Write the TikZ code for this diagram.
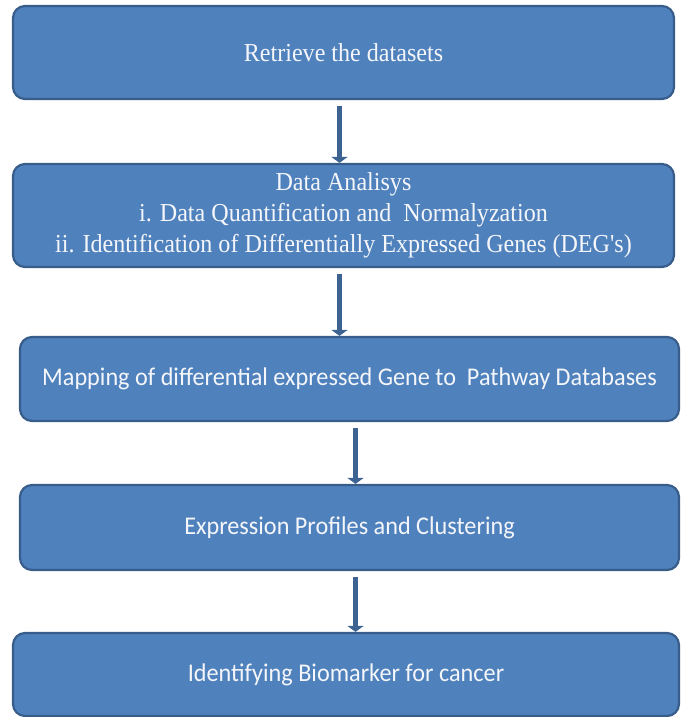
\documentclass[tikz,border=0pt]{standalone}
\usepackage{fontspec}
\usepackage{tikz}
\usetikzlibrary{arrows.meta,positioning}
\newfontfamily\serifbox[FakeStretch=0.93]{Liberation Serif}
\newfontfamily\sansbox[FakeStretch=0.95]{Carlito}
\definecolor{StepBlue}{HTML}{4F81BD}
\definecolor{StepEdge}{HTML}{385D8A}
\definecolor{ArrowBlue}{HTML}{3C6391}
\definecolor{StepText}{HTML}{F4F6FA}

\begin{document}
\begin{tikzpicture}[x=1bp, y=-1bp,
  stepbox/.style={rectangle, rounded corners=12bp, fill=StepBlue, draw=StepEdge,
    line width=2.2bp, text=StepText, align=center, inner sep=0pt},
  flow/.style={line width=5.5bp, ArrowBlue, -{Triangle[width=16bp, length=6bp]},
    shorten <=6bp}]
  \useasboundingbox (0,0) rectangle (681,717);
  \node[stepbox, minimum width=661bp, minimum height=93bp, font=\serifbox\fontsize{26}{31}\selectfont]
    (retrieve) at (343.5,52.5) {Retrieve the datasets};
  \node[stepbox, minimum width=661bp, minimum height=103bp, font=\serifbox\fontsize{26}{31}\selectfont]
    (analysis) at (343.5,215.5) {Data Analisys\\ i. Data Quantification and\ \ Normalyzation\\
    ii. Identification of Differentially Expressed Genes (DEG's)};
  \node[stepbox, minimum width=659bp, minimum height=84bp, font=\sansbox\fontsize{25.6}{30}\selectfont]
    (mapping) at (349.5,379) {Mapping of differential expressed Gene to\ \ Pathway Databases};
  \node[stepbox, minimum width=659bp, minimum height=85bp, font=\sansbox\fontsize{25.6}{30}\selectfont]
    (profiles) at (349.5,527.5) {Expression Profiles and Clustering};
  \node[stepbox, minimum width=666bp, minimum height=83bp, font=\sansbox\fontsize{25.6}{30}\selectfont]
    (biomarker) at (346,674.5) {Identifying Biomarker for cancer};
  % arrows between the steps
  \draw[flow] ([xshift=-4bp]retrieve.south) -- ([xshift=-4bp]analysis.north);
  \draw[flow] ([xshift=-4bp]analysis.south) -- ([xshift=-4bp]analysis.south |- mapping.north);
  \draw[flow] ([xshift=6bp]mapping.south) -- ([xshift=6bp]profiles.north);
  \draw[flow] ([xshift=6bp]profiles.south) -- ([xshift=6bp]profiles.south |- biomarker.north);
\end{tikzpicture}
\end{document}
